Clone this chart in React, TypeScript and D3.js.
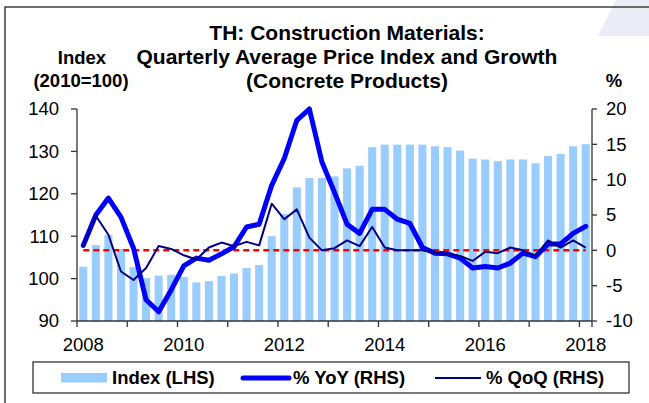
import React from "react";
import * as d3 from "d3";

const years = ["2008","2009","2010","2011","2012","2013","2014","2015","2016","2017","2018"];
const quarters = ["Q1","Q2","Q3","Q4"];
const categories = years.flatMap((y) => quarters.map((q) => `${y}${q}`)).slice(0, 41);

const indexValues = [102.8, 107.9, 110.3, 107.0, 102.7, 100.1, 100.7, 100.9, 100.4, 99.1, 99.4, 100.6, 101.2, 102.5, 103.2, 110.0, 115.2, 121.5, 123.7, 123.7, 124.1, 126.0, 126.6, 131.0, 131.6, 131.6, 131.6, 131.6, 131.2, 131.0, 130.2, 128.3, 128.1, 127.7, 128.1, 128.1, 127.2, 128.9, 129.4, 131.2, 131.7];
const yoyValues = [0.7, 5.0, 7.4, 4.7, 0.3, -7.0, -8.7, -5.6, -2.2, -1.1, -1.4, -0.5, 0.5, 3.3, 3.7, 9.2, 13.0, 18.4, 20.0, 12.5, 8.2, 3.7, 2.4, 5.8, 5.8, 4.4, 3.8, 0.4, -0.4, -0.5, -1.1, -2.5, -2.3, -2.5, -1.8, -0.4, -0.9, 0.9, 0.9, 2.4, 3.4];
const qoqValues = [0.5, 4.9, 2.2, -3.0, -4.2, -2.5, 0.6, 0.2, -0.7, -1.3, 0.4, 1.1, 0.6, 1.2, 0.7, 6.6, 4.4, 5.8, 1.8, 0.0, 0.3, 1.4, 0.6, 3.3, 0.4, 0.0, 0.0, 0.0, -0.3, -0.5, -0.8, -1.5, -0.2, -0.4, 0.4, 0.0, -0.8, 1.4, 0.4, 1.4, 0.4];
const zeroLine = categories.map(() => 0);

const leftTicks = [90, 100, 110, 120, 130, 140];
const rightTicks = [-10, -5, 0, 5, 10, 15, 20];
const xTickLabels = ["2008", "2010", "2012", "2014", "2016", "2018"];

const titleLines = ["TH: Construction Materials:", "Quarterly Average Price Index and Growth", "(Concrete Products)"];
const legendLabels = ["Index (LHS)", "% YoY (RHS)", "% QoQ (RHS)"];

const FONT = "Arial, 'Liberation Sans', Helvetica, sans-serif";

export default function App() {
  const W = 649, H = 403;
  const left = 77, right = 592, top = 109, bottom = 321;

  const x = d3.scaleBand<string>().domain(categories).range([left, right]).padding(0);
  const step = x.step();
  const barW = step * 0.64;
  const cx = (c: string) => (x(c) as number) + step / 2;

  const yL = d3.scaleLinear().domain([90, 140]).range([bottom, top]);
  const yR = d3.scaleLinear().domain([-10, 20]).range([bottom, top]);

  const lineGen = (vals: number[]) =>
    d3.line<number>().x((_, i) => cx(categories[i])).y((v) => yR(v))(vals) || "";

  const axisColor = "#333";

  // x ticks at the start of each year + end of axis
  const yearStarts = categories.filter((c) => c.endsWith("Q1"));
  const xTickPos = [...yearStarts.map((c) => x(c) as number), right];

  return (
    <svg width={W} height={H} style={{ position: "absolute", left: 0, top: 0, background: "#fff" }} fontFamily={FONT}>
      <rect x={0} y={0} width={W} height={H} fill="#fff" />
      {/* decorative corner */}
      <path d="M616,0 L649,0 L649,36 L598,36 Z" fill="#ECECF6" />
      {/* frame */}
      <rect x={5} y={7} width={W + 20} height={H + 20} fill="none" stroke="#222" strokeWidth={1.3} />

      {/* title */}
      {titleLines.map((t, i) => (
        <text key={t} x={347} y={40 + i * 24} textAnchor="middle" fontWeight="bold" fontSize={21} fill="#000">
          {t}
        </text>
      ))}
      <text x={82} y={63.5} textAnchor="middle" fontWeight="bold" fontSize={18.5}>Index</text>
      <text x={81} y={87} textAnchor="middle" fontWeight="bold" fontSize={18.5}>(2010=100)</text>
      <text x={614} y={87} textAnchor="middle" fontWeight="bold" fontSize={18.5}>%</text>

      {/* bars */}
      {indexValues.map((v, i) => (
        <rect
          key={categories[i]}
          x={cx(categories[i]) - barW / 2}
          y={yL(v)}
          width={barW}
          height={yL(90) - yL(v)}
          fill="#99CCFF"
        />
      ))}

      {/* zero line */}
      <path d={lineGen(zeroLine)} fill="none" stroke="#FF0000" strokeWidth={2.5} strokeDasharray="6,4" />
      {/* YoY */}
      <path d={lineGen(yoyValues)} fill="none" stroke="#0000FF" strokeWidth={5} strokeLinejoin="round" strokeLinecap="round" />
      {/* QoQ */}
      <path d={lineGen(qoqValues)} fill="none" stroke="#000080" strokeWidth={2} strokeLinejoin="round" />

      {/* left axis */}
      <line x1={left} x2={left} y1={top} y2={bottom} stroke={axisColor} strokeWidth={1.3} />
      {leftTicks.map((t) => (
        <g key={t}>
          <line x1={left - 6} x2={left} y1={yL(t)} y2={yL(t)} stroke={axisColor} strokeWidth={1.3} />
          <text x={59} y={yL(t)} dy="0.35em" textAnchor="end" fontSize={18.5} fill="#000">{t}</text>
        </g>
      ))}

      {/* right axis */}
      <line x1={right} x2={right} y1={top} y2={bottom} stroke={axisColor} strokeWidth={1.3} />
      {rightTicks.map((t) => (
        <g key={t}>
          <line x1={right} x2={right + 5} y1={yR(t)} y2={yR(t)} stroke={axisColor} strokeWidth={1.3} />
          <text x={606} y={yR(t)} dy="0.35em" textAnchor="start" fontSize={18.5} fill="#000">{t}</text>
        </g>
      ))}

      {/* bottom axis */}
      <line x1={left} x2={right} y1={bottom} y2={bottom} stroke={axisColor} strokeWidth={1.3} />
      {xTickPos.map((p, i) => (
        <line key={i} x1={p} x2={p} y1={bottom} y2={bottom + 6} stroke={axisColor} strokeWidth={1.3} />
      ))}
      {xTickLabels.map((l) => (
        <text key={l} x={cx(`${l}Q1`)} y={351} textAnchor="middle" fontSize={18.5} fill="#000">{l}</text>
      ))}

      {/* legend */}
      <rect x={33} y={362} width={596} height={31} fill="#fff" stroke="#222" strokeWidth={1.2} />
      <rect x={61} y={373} width={46} height={9.5} fill="#99CCFF" />
      <text x={112} y={384} fontWeight="bold" fontSize={18.5}>{legendLabels[0]}</text>
      <line x1={243} x2={289} y1={378} y2={378} stroke="#0000FF" strokeWidth={5} strokeLinecap="round" />
      <text x={293} y={384} fontWeight="bold" fontSize={18.5}>{legendLabels[1]}</text>
      <line x1={435} x2={481} y1={378} y2={378} stroke="#000080" strokeWidth={2} />
      <text x={486} y={384} fontWeight="bold" fontSize={18.5}>{legendLabels[2]}</text>
    </svg>
  );
}
